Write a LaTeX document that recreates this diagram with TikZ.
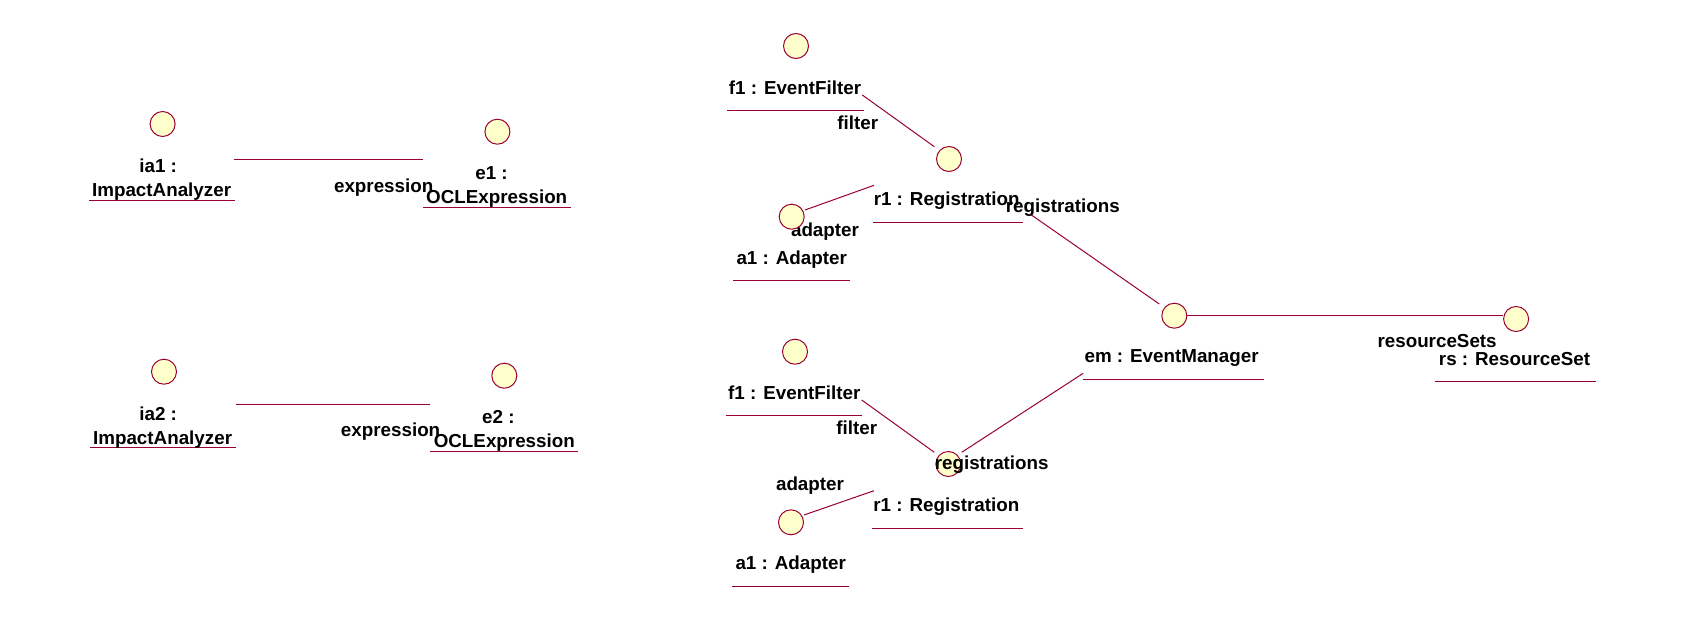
\documentclass[tikz,border=0pt]{standalone}
\usepackage{fontspec}
\setmainfont{Liberation Sans}
\definecolor{linec}{RGB}{153,0,51}
\definecolor{circfill}{RGB}{255,255,204}
\tikzset{
  obj/.style={circle,draw=linec,fill=circfill,line width=1pt,minimum size=25pt,inner sep=0pt},
  lbl/.style={anchor=base,inner sep=0pt,font=\fontsize{18.8}{22}\bfseries\selectfont,text=black},
  uline/.style={draw=linec,line width=1pt},
  link/.style={draw=linec,line width=1pt}
}
\begin{document}
\begin{tikzpicture}[x=1pt,y=-1pt]
\useasboundingbox[fill=white] (0,0) rectangle (1704,632);
% circles
\node[obj] (ia1) at (162.6,124) {};
\node[obj] (e1) at (497.4,131.7) {};
\node[obj] (ia2) at (164,371.7) {};
\node[obj] (e2) at (504.3,375.7) {};
\node[obj] (f1a) at (796,46) {};
\node[obj] (r1a) at (949,159) {};
\node[obj] (em) at (1174.3,315.7) {};
\node[obj] (rs) at (1516.1,319) {};
\node[obj] (f1b) at (795,351.7) {};
\node[obj] (r1b) at (948.3,464) {};
\node[obj] (a1b) at (791,522.3) {};
% underlines
\draw[uline] (88.9,200) -- (234.6,200);
\draw[uline] (423.3,207.7) -- (570.7,207.7);
\draw[uline] (90.3,447.3) -- (235.6,447.3);
\draw[uline] (430.2,451) -- (577.6,451);
\draw[uline] (727.3,110) -- (864,110);
\draw[uline] (733.3,280) -- (850,280);
\draw[uline] (873.3,222) -- (1023.3,222);
\draw[uline] (1083.2,379) -- (1263.6,379);
\draw[uline] (1435,381.7) -- (1595.7,381.7);
\draw[uline] (726,415.7) -- (861.7,415.7);
\draw[uline] (872.3,528.3) -- (1022.7,528.3);
\draw[uline] (732.3,586) -- (849,586);
% connector end points
\coordinate (ia1e) at (233.9,159.3);
\coordinate (e1w) at (422.6,159.3);
\coordinate (ia2e) at (235.6,404);
\coordinate (e2w) at (429.5,404);
\coordinate (f1aS) at (862.3,95);
\coordinate (r1aN) at (934.3,146.7);
\coordinate (a1aE) at (805,210);
\coordinate (r1aW) at (874,185.3);
\coordinate (r1aE) at (1030,214);
\coordinate (emNW) at (1159.3,304);
\coordinate (emE) at (1186.8,315.7);
\coordinate (rsW) at (1502.9,315.7);
\coordinate (emSW) at (1083.2,373.3);
\coordinate (r1bNE) at (961.7,452.3);
\coordinate (f1bS) at (861.7,400);
\coordinate (r1bNW) at (934.3,452.3);
\coordinate (a1bE) at (804,515);
\coordinate (r1bW) at (874,490.7);
% connectors
\draw[link] (ia1e) -- (e1w);
\draw[link] (ia2e) -- (e2w);
\draw[link] (f1aS) -- (r1aN);
\draw[link] (a1aE) -- (r1aW);
\draw[link] (r1aE) -- (emNW);
\draw[link] (emE) -- (rsW);
\draw[link] (emSW) -- (r1bNE);
\draw[link] (f1bS) -- (r1bNW);
\draw[link] (a1bE) -- (r1bW);
% labels
\node[lbl] (t1) at (158.2,172) {ia1 :};
\node[lbl] (t2) at (161.6,196) {ImpactAnalyzer};
\node[lbl] (t3) at (491.5,179.3) {e1 :};
\node[lbl] (t4) at (496.7,203.3) {OCLExpression};
\node[lbl] (t5) at (383.7,192) {expression};
\node[lbl] (t6) at (158.2,420) {ia2 :};
\node[lbl] (t7) at (162.6,444) {ImpactAnalyzer};
\node[lbl] (t8) at (498.4,423.3) {e2 :};
\node[lbl] (t9) at (504.3,447.3) {OCLExpression};
\node[lbl] (t10) at (390.6,436.7) {expression};
\node[lbl] (t11) at (795,94) {f1 : EventFilter};
\node[lbl] (t12) at (857.7,129.3) {filter};
\node[lbl] (t13) at (825,236.7) {adapter};
\node[obj] (a1a) at (791.7,216.7) {};
\node[lbl] (t14) at (791.7,264.3) {a1 : Adapter};
\node[lbl] (t15) at (946.7,205.7) {r1 : Registration};
\node[lbl] (t16) at (1062.8,212.7) {registrations};
\node[lbl] (t17) at (1437.1,347.3) {resourceSets};
\node[lbl] (t18) at (1514.5,365) {rs : ResourceSet};
\node[lbl] (t19) at (1171.6,362.7) {em : EventManager};
\node[lbl] (t20) at (794.3,399) {f1 : EventFilter};
\node[lbl] (t21) at (856.7,434) {filter};
\node[lbl] (t22) at (991.7,469) {registrations};
\node[lbl] (t23) at (810,490.7) {adapter};
\node[lbl] (t24) at (946.3,511.7) {r1 : Registration};
\node[lbl] (t25) at (790.7,569.3) {a1 : Adapter};
\end{tikzpicture}
\end{document}
